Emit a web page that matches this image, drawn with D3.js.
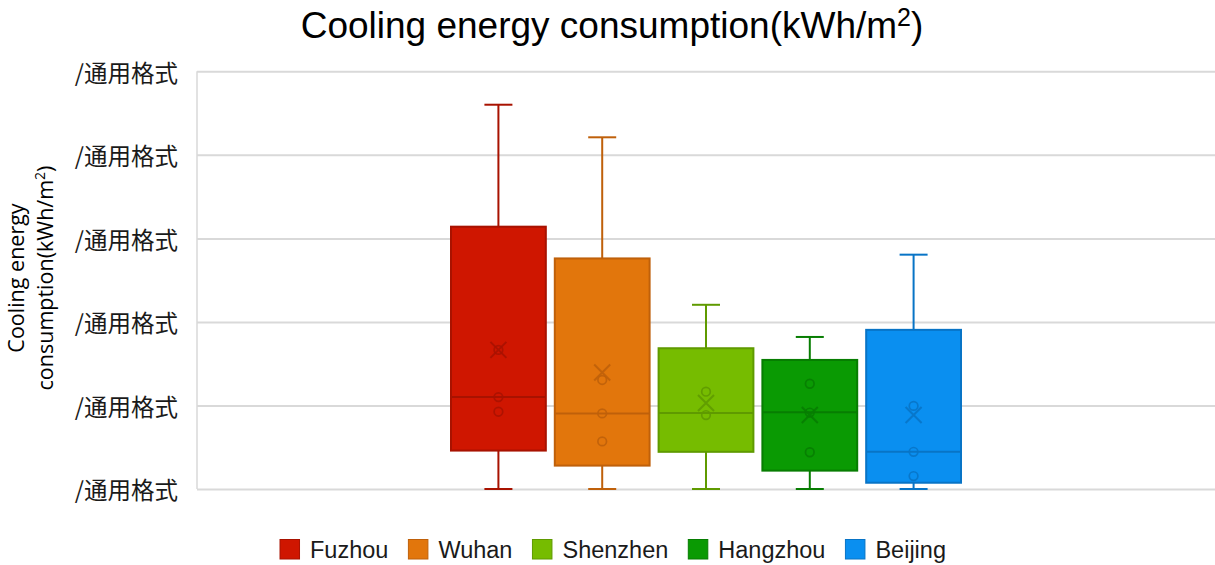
<!DOCTYPE html>
<html><head><meta charset="utf-8">
<script src="https://cdn.jsdelivr.net/npm/d3@7"></script>
<style>body{margin:0;background:#fff;}svg{display:block;}</style>
</head><body>
<svg id="chart" width="1215" height="565"></svg>
<script>
const categories = ["Fuzhou","Wuhan","Shenzhen","Hangzhou","Beijing"];
const whiskerMin = [0,0,0,0,0];
const q1 = [9.2,5.6,8.9,4.4,1.5];
const median = [22.0,18.1,18.2,18.4,8.9];
const q3 = [62.8,55.2,33.7,30.9,38.1];
const whiskerMax = [92.0,84.2,44.1,36.4,56.1];
const means = [33.3,27.9,20.6,17.7,17.7];
const innerPoints = [[33.3,22.0,18.5],[26.1,18.1,11.4],[23.3,17.7],[25.2,18.3,8.8],[19.9,8.9,3.1]];
const yTicks = [0,20,40,60,80,100];
const yTickLabels = ["/通用格式","/通用格式","/通用格式","/通用格式","/通用格式","/通用格式"];
const fills = ["#CF1600","#E2760C","#76BC00","#0A9A03","#0A8FF0"];
const strokes = ["#A81200","#BF600A","#5F9A00","#077D02","#0874C6"];

const svg = d3.select("#chart");
const plot = {left:197, right:1215, top:71.3, bottom:489};
const y = d3.scaleLinear().domain([0,100]).range([plot.bottom, plot.top]);
const x = d3.scaleBand().domain(categories).range([451, 961]).paddingInner(0.0865).paddingOuter(0);

// gridlines
const yAxis = d3.axisLeft(y).tickValues(yTicks).tickSize(-(plot.right-plot.left)).tickFormat((d,i)=>yTickLabels[i]);
const g = svg.append("g").attr("transform",`translate(${plot.left},0)`).call(yAxis);
g.select(".domain").remove();
g.selectAll(".tick line").attr("stroke","#d9d9d9").attr("stroke-width",2);
g.selectAll(".tick text").attr("x",-19).attr("dy","0.42em")
  .style("font-family","'Noto Sans CJK SC','Noto Sans',sans-serif").style("font-size","23.5px").style("font-weight","400").attr("fill","#1a1a1a");
svg.append("line").attr("x1",plot.left).attr("x2",plot.left).attr("y1",plot.top).attr("y2",plot.bottom)
  .attr("stroke","#d9d9d9").attr("stroke-width",1.5);

// boxes
categories.forEach((c,i)=>{
  const bx = x(c), bw = x.bandwidth(), cx = bx + bw/2;
  const gg = svg.append("g");
  const st = strokes[i];
  gg.append("line").attr("x1",cx).attr("x2",cx).attr("y1",y(whiskerMax[i])).attr("y2",y(q3[i])).attr("stroke",st).attr("stroke-width",2);
  gg.append("line").attr("x1",cx).attr("x2",cx).attr("y1",y(q1[i])).attr("y2",y(whiskerMin[i])).attr("stroke",st).attr("stroke-width",2);
  [whiskerMax[i], whiskerMin[i]].forEach(v=>{
    gg.append("line").attr("x1",cx-14).attr("x2",cx+14).attr("y1",y(v)).attr("y2",y(v)).attr("stroke",st).attr("stroke-width",2);
  });
  gg.append("rect").attr("x",bx).attr("y",y(q3[i])).attr("width",bw).attr("height",y(q1[i])-y(q3[i]))
    .attr("fill",fills[i]).attr("stroke",st).attr("stroke-width",2);
  gg.append("line").attr("x1",bx).attr("x2",bx+bw).attr("y1",y(median[i])).attr("y2",y(median[i])).attr("stroke",st).attr("stroke-width",2);
  innerPoints[i].forEach(v=>{
    gg.append("circle").attr("cx",cx).attr("cy",y(v)).attr("r",4.3).attr("fill","none").attr("stroke",st).attr("stroke-width",1.7).attr("opacity",0.9);
  });
  const my = y(means[i]), s = 8;
  gg.append("path").attr("d",`M${cx-s},${my-s}L${cx+s},${my+s}M${cx-s},${my+s}L${cx+s},${my-s}`)
    .attr("stroke",st).attr("stroke-width",2).attr("fill","none").attr("opacity",0.9);
});

// title
const title = svg.append("text").attr("x",612).attr("y",38).attr("text-anchor","middle")
  .style("font-family","'Liberation Sans',Arial,sans-serif").style("font-size","37px").attr("fill","#000");
title.append("tspan").text("Cooling energy consumption(kWh/m");
title.append("tspan").text("2").style("font-size","25px").attr("dy","-12");
title.append("tspan").text(")").attr("dy","12");

// y-axis title
const yt = svg.append("text").attr("transform","translate(0,278) rotate(-90)").attr("text-anchor","middle")
  .style("font-family","'Open Sans',sans-serif").style("font-size","21.5px").attr("fill","#000");
yt.append("tspan").attr("x",0).attr("y",24).text("Cooling energy");
const l2 = yt.append("tspan").attr("x",0).attr("y",53);
l2.append("tspan").text("consumption(kWh/m");
l2.append("tspan").text("2").style("font-size","14px").attr("dy","-8");
l2.append("tspan").text(")").attr("dy","8");

// legend
const lg = svg.append("g");
let lx = 0;
categories.forEach((c,i)=>{
  const it = lg.append("g").attr("transform",`translate(${lx},0)`);
  it.append("rect").attr("x",0).attr("y",539.5).attr("width",19.5).attr("height",19.5).attr("fill",fills[i]).attr("stroke",strokes[i]).attr("stroke-width",1);
  const t = it.append("text").attr("x",30).attr("y",557.5).text(c)
    .style("font-family","'Liberation Sans',Arial,sans-serif").style("font-size","23.5px").attr("fill","#1a1a1a");
  lx += 30 + t.node().getComputedTextLength() + 20;
});
const total = lx - 20;
lg.attr("transform",`translate(${613 - total/2},0)`);
</script>
</body></html>
